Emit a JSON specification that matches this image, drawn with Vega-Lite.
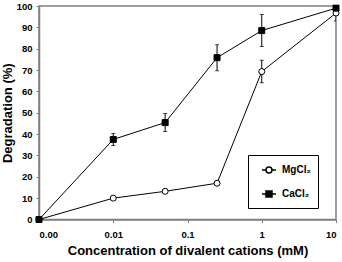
{
  "$schema": "https://vega.github.io/schema/vega-lite/v6.json",
  "width": 297,
  "height": 213.5,
  "autosize": {"type": "none"},
  "padding": {"left": 39, "top": 6, "right": 6, "bottom": 42.5},
  "background": "white",
  "config": {
    "font": "Liberation Sans",
    "view": {"stroke": "#808080", "strokeWidth": 1.5},
    "axis": {
      "grid": false,
      "domainColor": "#808080",
      "domainWidth": 1.5,
      "tickColor": "#808080",
      "tickWidth": 1,
      "tickSize": 3,
      "labelFont": "Liberation Sans",
      "labelFontWeight": "bold",
      "labelFontSize": 9.5,
      "labelColor": "black",
      "titleFont": "Liberation Sans",
      "titleFontWeight": "bold",
      "titleFontSize": 13,
      "titleColor": "black"
    },
    "axisY": {"labelPadding": 4, "titlePadding": 2}
  },
  "data": {
    "values": [
      {"series": "MgCl₂", "conc": 0.001, "value": 0, "lo": 0, "hi": 0},
      {"series": "MgCl₂", "conc": 0.01, "value": 10, "lo": 10, "hi": 10},
      {"series": "MgCl₂", "conc": 0.05, "value": 13.2, "lo": 13.2, "hi": 13.2},
      {"series": "MgCl₂", "conc": 0.25, "value": 17, "lo": 17, "hi": 17},
      {"series": "MgCl₂", "conc": 1, "value": 69.3, "lo": 64, "hi": 74.6},
      {"series": "MgCl₂", "conc": 10, "value": 96.7, "lo": 93, "hi": 100.4},
      {"series": "CaCl₂", "conc": 0.001, "value": 0, "lo": 0, "hi": 0},
      {"series": "CaCl₂", "conc": 0.01, "value": 37.5, "lo": 34.7, "hi": 40.3},
      {"series": "CaCl₂", "conc": 0.05, "value": 45.4, "lo": 41.2, "hi": 49.6},
      {"series": "CaCl₂", "conc": 0.25, "value": 75.8, "lo": 69.7, "hi": 81.9},
      {"series": "CaCl₂", "conc": 1, "value": 88.5, "lo": 81, "hi": 96},
      {"series": "CaCl₂", "conc": 10, "value": 99, "lo": 98, "hi": 100}
    ]
  },
  "encoding": {
    "x": {
      "field": "conc",
      "type": "quantitative",
      "scale": {"type": "log", "domain": [0.001, 10], "nice": false},
      "axis": {
        "title": "Concentration of divalent cations (mM)",
        "values": [0.001, 0.01, 0.1, 1, 10],
        "labelExpr": "datum.value < 0.005 ? '0.00' : format(datum.value, '~g')",
        "labelPadding": 7,
        "titlePadding": 5
      }
    }
  },
  "layer": [
    {
      "mark": {"type": "rule", "color": "black", "strokeWidth": 1, "clip": true},
      "encoding": {
        "y": {"field": "lo", "type": "quantitative", "scale": {"domain": [0, 100], "nice": false},
          "axis": {"title": "Degradation (%)", "tickCount": 10}},
        "y2": {"field": "hi"}
      }
    },
    {
      "mark": {"type": "tick", "orient": "horizontal", "color": "black", "thickness": 1, "size": 4, "clip": true},
      "encoding": {"y": {"field": "lo", "type": "quantitative",
        "axis": {"title": "Degradation (%)", "tickCount": 10}}}
    },
    {
      "mark": {"type": "tick", "orient": "horizontal", "color": "black", "thickness": 1, "size": 4, "clip": true},
      "encoding": {"y": {"field": "hi", "type": "quantitative",
        "axis": {"title": "Degradation (%)", "tickCount": 10}}}
    },
    {
      "mark": {"type": "line", "color": "black", "strokeWidth": 1},
      "encoding": {
        "y": {"field": "value", "type": "quantitative",
          "axis": {"title": "Degradation (%)", "tickCount": 10}},
        "detail": {"field": "series", "type": "nominal"}
      }
    },
    {
      "mark": {"type": "point", "filled": true, "stroke": "black", "strokeWidth": 1, "size": 36, "opacity": 1},
      "encoding": {
        "y": {"field": "value", "type": "quantitative",
          "axis": {"title": "Degradation (%)", "tickCount": 10}},
        "shape": {"field": "series", "type": "nominal", "scale": {"domain": ["MgCl₂", "CaCl₂"], "range": ["circle", "square"]}, "legend": null},
        "fill": {"field": "series", "type": "nominal", "scale": {"domain": ["MgCl₂", "CaCl₂"], "range": ["white", "black"]}, "legend": null}
      }
    },
    {
      "transform": [{"filter": "datum.value < 0"}],
      "mark": {"type": "point", "filled": true, "stroke": "black", "strokeWidth": 1, "opacity": 1},
      "encoding": {
        "y": {"field": "value", "type": "quantitative",
          "axis": {"title": "Degradation (%)", "tickCount": 10}},
        "fill": {
          "field": "series", "type": "nominal",
          "scale": {"domain": ["MgCl₂", "CaCl₂"], "range": ["white", "black"]}
        },
        "shape": {
          "field": "series", "type": "nominal",
          "scale": {"domain": ["MgCl₂", "CaCl₂"], "range": ["M-1,0H-0.43M0.43,0H1M0.43,0A0.43,0.43,0,1,1,-0.43,0A0.43,0.43,0,1,1,0.43,0Z", "M-1,0H1M-0.43,-0.43H0.43V0.43H-0.43Z"]},
          "legend": {
            "title": null,
            "titleFontSize": 0,
            "titlePadding": 0,
            "orient": "none",
            "legendX": 209,
            "legendY": 149,
            "strokeColor": "black",
            "fillColor": "white",
            "padding": 7,
            "rowPadding": 9,
            "symbolSize": 196,
            "symbolOffset": 6,
            "labelOffset": 5,
            "labelFont": "Liberation Sans",
            "labelFontWeight": "bold",
            "labelFontSize": 10,
            "labelColor": "black",
            "encode": {
              "symbols": {
                "update": {
                  "stroke": {"value": "black"},
                  "strokeWidth": {"value": 1},
                  "opacity": {"value": 1}
                }
              }
            }
          }
        }
      }
    }
  ],
  "resolve": {"scale": {"shape": "independent", "fill": "independent"}}
}
